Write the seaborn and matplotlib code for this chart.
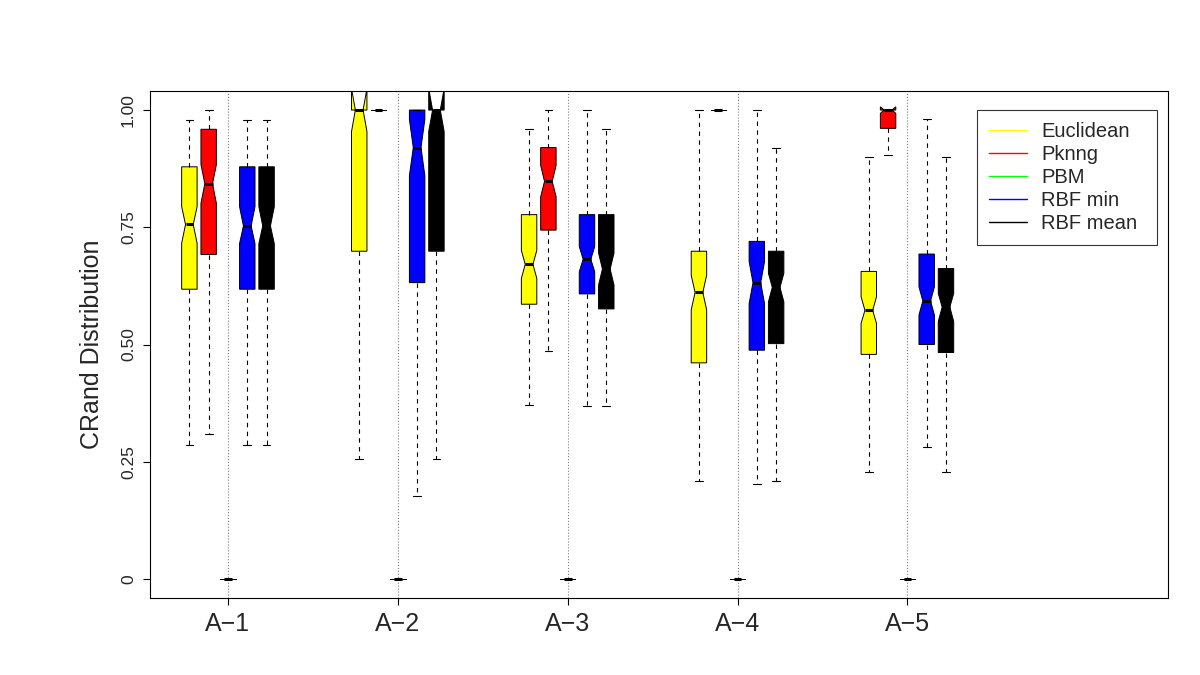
import matplotlib
matplotlib.use("Agg")
import matplotlib.pyplot as plt
from matplotlib.lines import Line2D
import seaborn as sns

OUTPUT_FILE = "out.png"

GROUPS = ["A\u22121", "A\u22122", "A\u22123", "A\u22124", "A\u22125"]
METHODS = ["Euclidean", "Pknng", "PBM", "RBF min", "RBF mean"]
COLORS = ["#FFFF00", "#FF0000", "#00FF00", "#0000FF", "#000000"]

# box stats, one row per method, one column per group
WHISLO = [[0.286, 0.255, 0.371, 0.209, 0.229],
          [0.309, 1.000, 0.487, 1.000, 0.904],
          [0.000, 0.000, 0.000, 0.000, 0.000],
          [0.286, 0.177, 0.370, 0.202, 0.281],
          [0.286, 0.255, 0.370, 0.209, 0.229]]
Q1 = [[0.618, 0.699, 0.586, 0.461, 0.479],
      [0.692, 1.000, 0.744, 1.000, 0.961],
      [0.000, 0.000, 0.000, 0.000, 0.000],
      [0.618, 0.632, 0.608, 0.488, 0.500],
      [0.618, 0.699, 0.576, 0.502, 0.483]]
MED = [[0.756, 1.000, 0.671, 0.611, 0.573],
       [0.843, 1.000, 0.848, 1.000, 1.000],
       [0.000, 0.000, 0.000, 0.000, 0.000],
       [0.753, 0.920, 0.682, 0.632, 0.593],
       [0.753, 1.000, 0.661, 0.622, 0.580]]
Q3 = [[0.879, 1.000, 0.777, 0.699, 0.656],
      [0.959, 1.000, 0.920, 1.000, 1.000],
      [0.000, 0.000, 0.000, 0.000, 0.000],
      [0.879, 1.000, 0.777, 0.720, 0.693],
      [0.879, 1.000, 0.777, 0.699, 0.662]]
WHISHI = [[0.979, 1.000, 0.959, 1.000, 0.900],
          [1.000, 1.000, 1.000, 1.000, 1.000],
          [0.000, 0.000, 0.000, 0.000, 0.000],
          [0.979, 1.000, 1.000, 1.000, 0.980],
          [0.979, 1.000, 0.959, 0.920, 0.900]]
CILO = [[0.716, 0.954, 0.641, 0.574, 0.545],
        [0.801, 1.000, 0.815, 1.000, 0.993],
        [0.000, 0.000, 0.000, 0.000, 0.000],
        [0.715, 0.860, 0.655, 0.587, 0.563],
        [0.715, 0.954, 0.627, 0.591, 0.549]]
CIHI = [[0.794, 1.046, 0.701, 0.648, 0.602],
        [0.884, 1.000, 0.882, 1.000, 1.007],
        [0.000, 0.000, 0.000, 0.000, 0.000],
        [0.794, 0.980, 0.709, 0.677, 0.623],
        [0.794, 1.046, 0.695, 0.652, 0.609]]

GROUP_STEP = 8.8

sns.set_style("ticks")
plt.rcParams["font.family"] = ["Liberation Sans", "DejaVu Sans"]

fig = plt.figure(figsize=(12, 6.75), dpi=100)
ax = fig.add_axes([0.125, 0.114, 0.8483, 0.7511])

stats, pos, cols = [], [], []
for g in range(len(GROUPS)):
    for m in range(len(METHODS)):
        stats.append(dict(whislo=WHISLO[m][g], q1=Q1[m][g], med=MED[m][g], q3=Q3[m][g],
                          whishi=WHISHI[m][g], cilo=CILO[m][g], cihi=CIHI[m][g], fliers=[]))
        pos.append(g * GROUP_STEP + m - 2)
        cols.append(COLORS[m])

centers = [g * GROUP_STEP for g in range(len(GROUPS))]
for c in centers:
    ax.axvline(c, color="grey", ls=":", lw=0.8, zorder=1)

bp = ax.bxp(stats, positions=pos, widths=0.8, shownotches=True, patch_artist=True,
            showfliers=False,
            boxprops=dict(edgecolor="black", linewidth=0.7),
            whiskerprops=dict(color="black", linewidth=0.8, linestyle=(0, (4, 4))),
            capprops=dict(color="black", linewidth=0.8),
            medianprops=dict(color="black", linewidth=2.2))
for patch, c in zip(bp["boxes"], cols):
    patch.set_facecolor(c)

ax.set_xlim(-4.04, 48.7)
ax.set_ylim(-0.0405, 1.0405)
ax.set_xticks(centers)
ax.set_xticklabels(GROUPS, fontsize=18)
ax.set_yticks([0, 0.25, 0.5, 0.75, 1.0])
ax.set_yticklabels(["0", "0.25", "0.50", "0.75", "1.00"], rotation=90, va="center", fontsize=12.5)
ax.tick_params(axis="both", length=5, width=0.8, color="black")
ax.tick_params(axis="x", pad=5)
ax.tick_params(axis="y", pad=5)
ax.set_ylabel("CRand Distribution", fontsize=18, labelpad=12)
for s in ax.spines.values():
    s.set_visible(True)
    s.set_color("black")
    s.set_linewidth(0.8)

handles = [Line2D([], [], color=c, lw=1) for c in COLORS]
leg = ax.legend(handles, METHODS, loc="upper left", mode="expand",
                bbox_to_anchor=(0.8124, 0.5, 0.1768, 0.4625),
                borderaxespad=0, fontsize=14.5, frameon=True, fancybox=False,
                handlelength=1.9, labelspacing=0.2, borderpad=0.6, handletextpad=0.7)
leg.get_frame().set_edgecolor("black")
leg.get_frame().set_linewidth(0.8)

plt.savefig(OUTPUT_FILE, dpi=100)
plt.close()
print(f"Saved {OUTPUT_FILE}")
